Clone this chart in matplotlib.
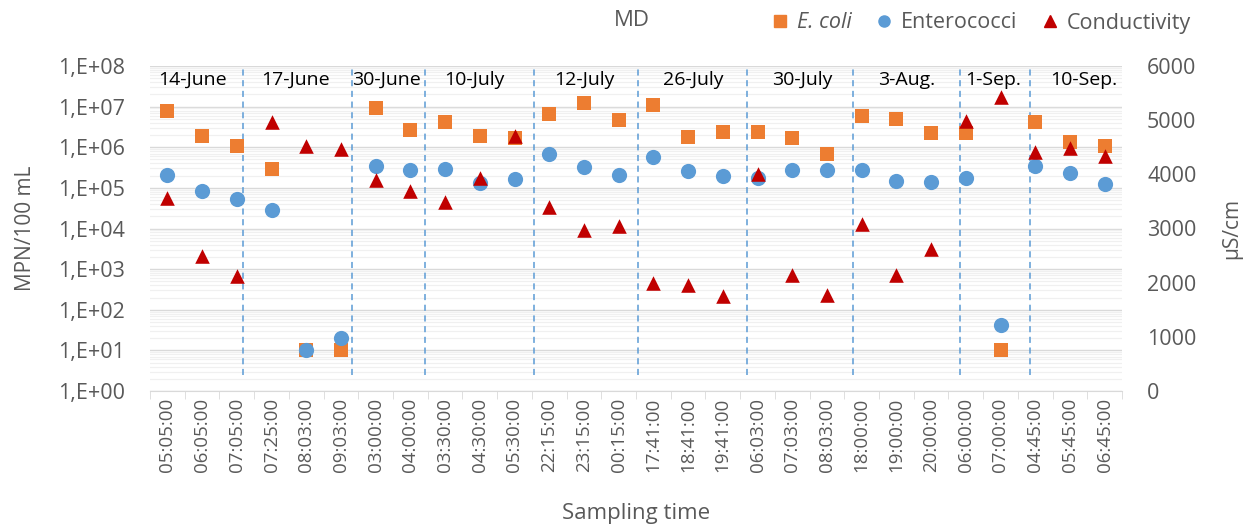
import matplotlib
matplotlib.use("Agg")
import matplotlib.pyplot as plt
import matplotlib.ticker as mticker
from matplotlib.lines import Line2D
import numpy as np

plt.rcParams['font.family'] = ['Open Sans', 'DejaVu Sans']

times = ["05:05:00", "06:05:00", "07:05:00", "07:25:00", "08:03:00", "09:03:00",
         "03:00:00", "04:00:00", "03:30:00", "04:30:00", "05:30:00", "22:15:00",
         "23:15:00", "00:15:00", "17:41:00", "18:41:00", "19:41:00", "06:03:00",
         "07:03:00", "08:03:00", "18:00:00", "19:00:00", "20:00:00", "06:00:00",
         "07:00:00", "04:45:00", "05:45:00", "06:45:00"]

groups = ["14-June", "17-June", "30-June", "10-July", "12-July", "26-July",
          "30-July", "3-Aug.", "1-Sep.", "10-Sep."]

ecoli = [7.8e6, 1.9e6, 1.1e6, 2.9e5, 10, 10,
         9.1e6, 2.6e6, 4.3e6, 1.9e6, 1.66e6, 6.5e6,
         1.23e7, 4.7e6, 1.07e7, 1.77e6, 2.4e6, 2.35e6,
         1.7e6, 6.9e5, 5.8e6, 5.0e6, 2.3e6, 2.3e6,
         10, 4.2e6, 1.35e6, 1.07e6]

enterococci = [2.05e5, 8.5e4, 5.4e4, 2.9e4, 10, 20,
               3.5e5, 2.7e5, 2.9e5, 1.3e5, 1.66e5, 6.9e5,
               3.3e5, 2.05e5, 5.9e5, 2.6e5, 1.95e5, 1.78e5,
               2.8e5, 2.7e5, 2.8e5, 1.46e5, 1.42e5, 1.74e5,
               41, 3.5e5, 2.3e5, 1.26e5]

conductivity = [3566, 2490, 2120, 4970, 4520, 4465,
                3890, 3695, 3487, 3924, 4705, 3400,
                2970, 3045, 1987, 1955, 1747, 3998,
                2140, 1771, 3075, 2140, 2614, 4980,
                5430, 4415, 4490, 4335]

# layout (positions in category units)
separators = [2.19, 5.33, 7.43, 10.55, 13.57, 16.71, 19.74, 22.82, 24.84]
label_x = [0.72, 3.69, 6.3, 8.85, 12.0, 15.16, 18.3, 21.3, 23.8, 26.4]

C_ECOLI = "#ED7D31"
C_ENT = "#5B9BD5"
C_COND = "#C00000"
GRAY = "#595959"

fig = plt.figure(figsize=(12.52, 5.27), dpi=100)
ax = fig.add_axes([150/1252, 1-391/527, (1122-150)/1252, (391-66)/527])
ax2 = ax.twinx()

x = np.arange(len(times))

ax.set_yscale("log")
ax.set_ylim(1, 1e8)
ax.set_xlim(-0.5, len(times)-0.5)
ax2.set_ylim(0, 6000)

# grid
ax.yaxis.set_major_locator(mticker.LogLocator(base=10, numticks=20))
ax.yaxis.set_minor_locator(mticker.LogLocator(base=10, subs=np.arange(2, 10), numticks=20))
ax.yaxis.set_major_formatter(mticker.FuncFormatter(lambda v, p: "1,E+%02d" % int(round(np.log10(v)))))
ax.yaxis.set_minor_formatter(mticker.NullFormatter())
ax.grid(which="major", axis="y", color="#d9d9d9", linewidth=1.0, zorder=0)
ax.grid(which="minor", axis="y", color="#f0f0f0", linewidth=0.9, zorder=0)
ax.set_axisbelow(True)

for s in ["left", "right", "top"]:
    ax.spines[s].set_visible(False)
    ax2.spines[s].set_visible(False)
ax.spines["bottom"].set_color("#d9d9d9")
ax2.spines["bottom"].set_visible(False)

ax.tick_params(axis="y", which="both", length=0, labelsize=15.5, labelcolor=GRAY, pad=18)
ax2.tick_params(axis="y", length=0, labelsize=15.5, labelcolor=GRAY, pad=18)
ax2.set_yticks(np.arange(0, 6001, 1000))

ax.set_xticks(x)
ax.set_xticklabels(times, rotation=90, fontsize=13.5, color=GRAY)
ax.set_xticks(np.arange(-0.5, len(times), 1.0), minor=True)
ax.tick_params(axis="x", which="major", length=0, pad=5)
ax.tick_params(axis="x", which="minor", length=6, color="#d9d9d9")

# separators
for sx in separators:
    ax.axvline(sx, ymin=0.05, ymax=1.0, color=C_ENT, linestyle=(0, (4, 3)), linewidth=1.1, zorder=1)

for lx, g in zip(label_x, groups):
    ax.text(lx, 0.985, g, transform=ax.get_xaxis_transform(), ha="center", va="top",
            fontsize=14, color="black", zorder=2)

ax.scatter(x, ecoli, marker="s", s=100, color=C_ECOLI, zorder=3, linewidths=0)
ax.scatter(x, enterococci, marker="o", s=120, color=C_ENT, zorder=4, linewidths=0)
ax2.scatter(x, conductivity, marker="^", s=110, color=C_COND, zorder=5, linewidths=0)

ax.set_ylabel("MPN/100 mL", fontsize=15, color=GRAY, labelpad=16)
ax2.set_ylabel("µS/cm", fontsize=15, color=GRAY, rotation=90, labelpad=18)
ax.set_xlabel("Sampling time", fontsize=16, color=GRAY, labelpad=22)

fig.text(632/1252, 1-21/527, "MD", fontsize=16, color=GRAY, ha="center", va="center")

handles = [Line2D([], [], marker="s", color=C_ECOLI, linestyle="none", markersize=8),
           Line2D([], [], marker="o", color=C_ENT, linestyle="none", markersize=8),
           Line2D([], [], marker="^", color=C_COND, linestyle="none", markersize=8)]
leg = fig.legend(handles, ["E. coli", "Enterococci", "Conductivity"], loc="center",
                 bbox_to_anchor=(980/1252, 1-23/527), ncol=3, frameon=False,
                 fontsize=15.5, handletextpad=0.3, columnspacing=1.0, handlelength=1.0,
                 borderpad=0)
for t in leg.get_texts():
    t.set_color(GRAY)
leg.get_texts()[0].set_fontstyle("italic")

fig.savefig("out.png", dpi=100)
